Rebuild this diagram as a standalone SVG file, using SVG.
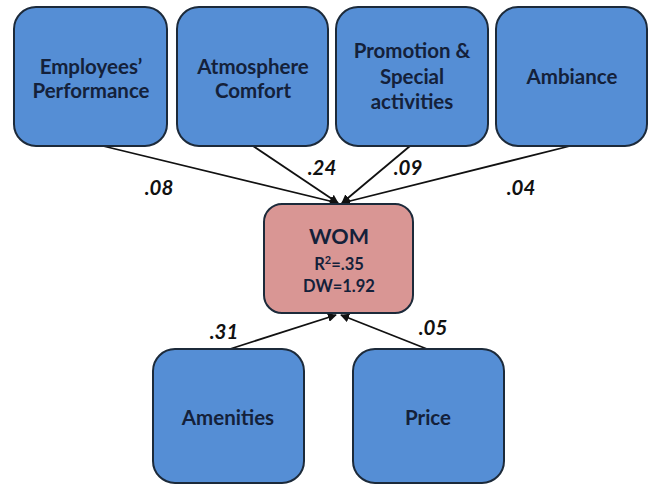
<svg xmlns="http://www.w3.org/2000/svg" width="649" height="484" viewBox="0 0 649 484">
<defs>
<style>
.box{fill:#558ED5;stroke:#1C2A3A;stroke-width:2}
.wom{fill:#D99694;stroke:#1C2A3A;stroke-width:2}
.t{font-family:Lato,"Open Sans","Liberation Sans",sans-serif;font-weight:bold;fill:#14213A;text-anchor:middle}
.n{font-size:20.5px}
.w1{font-size:21.5px}
.w2{font-size:16.5px}
.lbl{font-family:Lato,"Open Sans","Liberation Sans",sans-serif;font-weight:bold;font-style:italic;font-size:20.5px;fill:#111;text-anchor:middle}
.c{stroke:#111;stroke-width:1.8;fill:none;marker-end:url(#ah)}
</style>
<marker id="ah" viewBox="0 0 10 10" refX="9" refY="5" markerWidth="5" markerHeight="5" orient="auto" markerUnits="strokeWidth">
<path d="M0,0 L10,5 L0,10 z" fill="#111"/>
</marker>
</defs>
<g id="connectors">
<line class="c" x1="103" y1="146" x2="338" y2="203"/>
<line class="c" x1="253" y1="146" x2="338" y2="203"/>
<line class="c" x1="410" y1="146" x2="342" y2="203"/>
<line class="c" x1="570" y1="146" x2="342" y2="203"/>
<line class="c" x1="230" y1="349" x2="336" y2="315"/>
<line class="c" x1="427" y1="349" x2="341" y2="315"/>
<text class="lbl" x="159" y="195">.08</text>
<text class="lbl" x="322" y="175">.24</text>
<text class="lbl" x="408" y="175">.09</text>
<text class="lbl" x="521" y="195">.04</text>
<text class="lbl" x="224" y="339">.31</text>
<text class="lbl" x="433" y="335">.05</text>
</g>
<g id="employees">
<rect class="box" x="14" y="7" width="153" height="139" rx="22"/>
<text class="t n" x="91" y="74">Employees’</text>
<text class="t n" x="91" y="98">Performance</text>
</g>
<g id="atmosphere">
<rect class="box" x="177" y="7" width="151" height="139" rx="22"/>
<text class="t n" x="253" y="74">Atmosphere</text>
<text class="t n" x="253" y="98">Comfort</text>
</g>
<g id="promotion">
<rect class="box" x="336" y="7" width="152" height="139" rx="22"/>
<text class="t n" x="412" y="58">Promotion &amp;</text>
<text class="t n" x="412" y="84">Special</text>
<text class="t n" x="412" y="109">activities</text>
</g>
<g id="ambiance">
<rect class="box" x="496" y="7" width="151" height="139" rx="22"/>
<text class="t n" x="572" y="84">Ambiance</text>
</g>
<g id="wom">
<rect class="wom" x="264" y="204" width="149" height="109" rx="18"/>
<text class="t w1" x="339" y="244">WOM</text>
<text class="t w2" x="339" y="270">R<tspan font-size="11" dy="-6">2</tspan><tspan dy="6">=.35</tspan></text>
<text class="t w2" x="339" y="292">DW=1.92</text>
</g>
<g id="amenities">
<rect class="box" x="153" y="349" width="151" height="134" rx="22"/>
<text class="t n" x="228" y="425">Amenities</text>
</g>
<g id="price">
<rect class="box" x="353" y="349" width="151" height="134" rx="22"/>
<text class="t n" x="428" y="425">Price</text>
</g>
</svg>
